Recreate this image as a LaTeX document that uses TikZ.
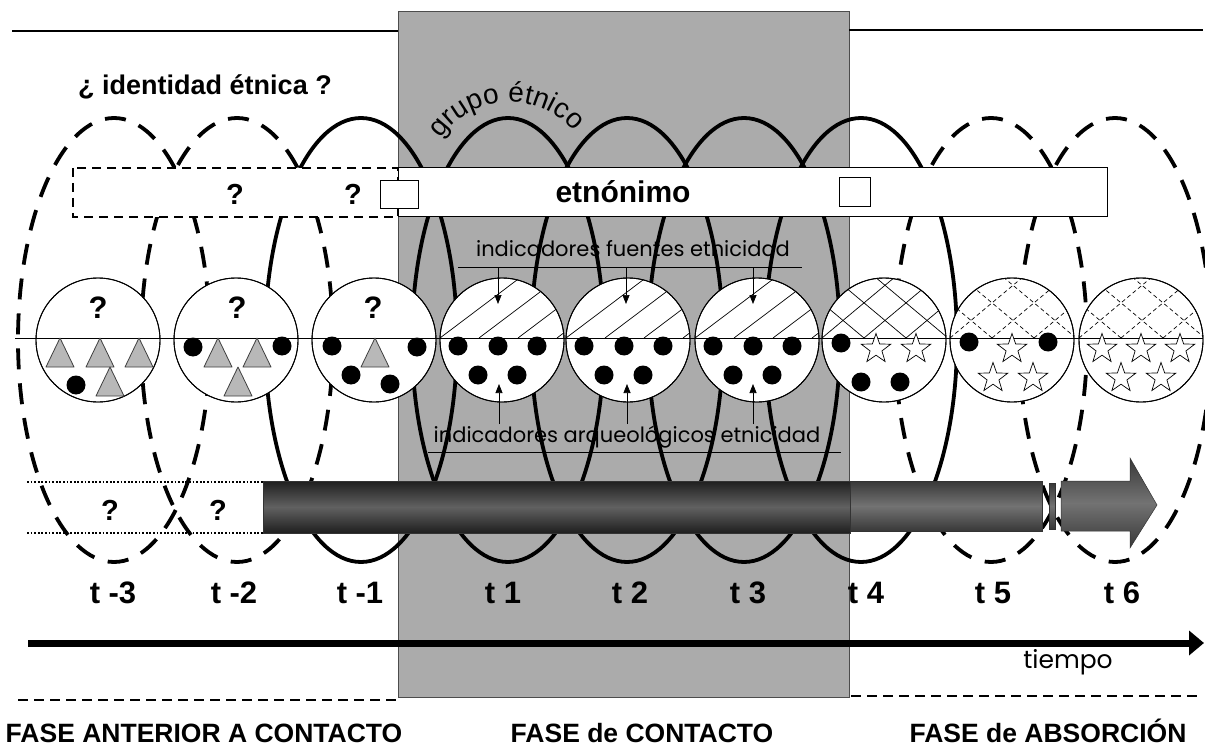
\documentclass[tikz,border=0pt]{standalone}
\usepackage{fontspec}
\setmainfont{Liberation Sans}
\newfontfamily\comicfont{Poppins}
\usetikzlibrary{shapes.geometric,decorations.text,arrows.meta}

\newcommand{\grupofont}{\fontsize{28}{28}\selectfont}
% small gray triangle, apex at (#1,#2)
\newcommand{\trian}[2]{\filldraw[triang] (#1,#2) -- ++(14,29) -- ++(-28,0) -- cycle;}

\tikzset{
  grupo/.style={line width=3.8pt},
  grupodash/.style={grupo, dash pattern=on 21pt off 14pt},
  disco/.style={circle, draw, fill=white, line width=0.9pt, minimum size=124pt, inner sep=0pt},
  punto/.style={circle, fill=black, minimum size=19pt, inner sep=0pt},
  estrella/.style={star, star points=5, star point ratio=2.5, draw, fill=white, line width=0.7pt, minimum size=31pt, inner sep=0pt},
  triang/.style={fill=black!28, draw=black!75, line width=0.8pt, line join=round},
  hatch/.style={line width=0.7pt},
  hatchdash/.style={hatch, dash pattern=on 4pt off 3pt},
  tlab/.style={font=\bfseries\fontsize{31}{31}\selectfont, anchor=base, inner sep=0pt},
  fase/.style={font=\bfseries\fontsize{26.5}{27}\selectfont, anchor=base, inner sep=0pt},
  qmark/.style={font=\bfseries\fontsize{29}{29}\selectfont, anchor=base, inner sep=0pt},
  comic/.style={font=\comicfont\fontsize{21}{21}\selectfont, anchor=base, inner sep=0pt},
  indarrow/.style={line width=0.7pt, -{Triangle[length=9pt,width=7pt]}},
  cajita/.style={draw, fill=white, line width=0.8pt, inner sep=0pt},
  puntos/.style={line width=1.8pt, dash pattern=on 1.8pt off 1.8pt},
  fasedash/.style={line width=1.3pt, dash pattern=on 10pt off 6pt},
  barra/.style={draw=black!80, line width=0.5pt},
}

\begin{document}
\begin{tikzpicture}[x=1pt,y=-1pt]
\useasboundingbox[fill=white] (0,0) rectangle (1205,746);

% contact phase
\filldraw[fill=black!33, draw=black!70, line width=0.8pt] (398,11) rectangle (849,697);

% frame lines
\draw[line width=1.6pt] (12,31) -- (398,31);
\draw[line width=1.6pt] (849,30) -- (1203,30);
\draw[fasedash] (18,700) -- (398,700);
\draw[fasedash] (851,696) -- (1203,696);

% indicators
\node[comic] (fuentes) at (633,257) {indicadores fuentes etnicidad};
\draw[line width=0.7pt] (458,267) -- (802,267);
\node[comic] (arqueo) at (627,442) {indicadores arqueológicos etnicidad};
\draw[line width=0.7pt] (428,452) -- (841,452);

% ethnic groups in time
\foreach \cx/\sty in {114/grupodash, 237/grupodash, 361/grupo, 508/grupo, 627/grupo,
                      744/grupo, 861/grupo, 991/grupodash, 1115/grupodash}
  \draw[\sty] (\cx,340) ellipse [x radius=96, y radius=222];

\node[font=\bfseries\fontsize{27}{27}\selectfont, anchor=base, inner sep=0pt] (ident) at (205,95) {¿ identidad étnica ?};
\path[decorate, decoration={text along path, text align=center, text={|\grupofont|grupo étnico}}]
  (438.8,141.5) arc[start angle=-148, end angle=-38, radius=84];

% etnonimo
\filldraw[fill=white, line width=1.2pt, dash pattern=on 9pt off 6pt] (73,168) rectangle (398,217);
\filldraw[fill=white, line width=0.8pt] (398,167) rectangle (1107,216);
\node[qmark] (q1) at (235,205) {?};
\node[qmark] (q2) at (353,205) {?};
\node[font=\bfseries\fontsize{30}{30}\selectfont, anchor=base, inner sep=0pt] (etno) at (623,203) {etnónimo};
\node[cajita, minimum width=38pt, minimum height=28pt] (sq1) at (399,194) {};
\node[cajita, minimum width=31pt, minimum height=29pt] (sq2) at (854.5,191.5) {};

% samples
\foreach \i/\cx in {1/98,2/236,3/374,4/502,5/628,6/757,7/884,8/1012,9/1141}
  \node[disco] (c\i) at (\cx,340) {};

\foreach \i/\cx in {1/98,2/237,3/373}
  \node[qmark, font=\bfseries\fontsize{31}{31}\selectfont] (cq\i) at (\cx,318) {?};

% simple hatching
\foreach \cx in {502,628,757} {
  \begin{scope}
    \clip (\cx,340) circle (62);
    \clip (\cx-70,338) rectangle (\cx+70,270);
    \foreach \d in {-62,-23,16,55}
      \draw[hatch] (\cx+\d,338) -- ++(130,-98);
  \end{scope}
}
% cross hatching
\foreach \cx/\sty in {884/hatch, 1012/hatchdash, 1141/hatchdash} {
  \begin{scope}
    \clip (\cx,340) circle (62);
    \clip (\cx-70,338) rectangle (\cx+70,270);
    \foreach \d in {-104,-62,-20,22,64,106} {
      \draw[\sty] (\cx+\d,338) -- ++(110,-92);
      \draw[\sty] (\cx+\d,338) -- ++(-110,-92);
    }
  \end{scope}
}
\foreach \i in {1,...,9}
  \draw[line width=0.9pt] (c\i) circle (62);

\draw[line width=0.8pt] (15,338) -- (1203,338);

% lower halves
\trian{60}{338} \trian{100}{338} \trian{139}{338} \trian{110}{367}
\node[punto] (d1a) at (76,385) {};
\node[punto] (d2a) at (193,347) {};
\node[punto] (d2b) at (282,346) {};
\trian{218}{338} \trian{257}{338} \trian{238}{367}
\node[punto] (d3a) at (332,346) {};
\node[punto] (d3b) at (417,347) {};
\node[punto] (d3c) at (351,375) {};
\node[punto] (d3d) at (390,384) {};
\trian{375}{338}
\foreach \i/\cx in {4/502,5/628,6/757}
  \foreach \dx/\dy [count=\j] in {-44/346,-4/346,35/346,-24/375,15/375}
    \node[punto] (d\i-\j) at (\cx+\dx,\dy) {};
\node[punto] (d7a) at (841,343) {};
\node[estrella] (s7a) at (876,349) {};
\node[estrella] (s7b) at (916,349) {};
\node[punto] (d7b) at (861,382) {};
\node[punto] (d7c) at (900,382) {};
\node[punto] (d8a) at (969,342) {};
\node[estrella] (s8a) at (1012,349) {};
\node[punto] (d8b) at (1048,342) {};
\node[estrella] (s8b) at (993,378) {};
\node[estrella] (s8c) at (1033,378) {};
\foreach \x [count=\j] in {1102,1141,1180}
  \node[estrella] (s9-\j) at (\x,349) {};
\foreach \x [count=\j] in {1121,1161}
  \node[estrella] (s9b-\j) at (\x,378) {};

% indicator arrows
\foreach \i/\x in {4/498,5/626,6/753} {
  \coordinate (fu\i) at (\x,267);
  \coordinate (fd\i) at (\x,304);
  \draw[indarrow] (fu\i) -- (fd\i);
}
\foreach \i/\x in {4/499,5/627,6/753} {
  \coordinate (au\i) at (\x,424);
  \coordinate (ad\i) at (\x,384);
  \draw[indarrow] (au\i) -- (ad\i);
}

% time bar
\draw[puntos] (27,482) -- (263,482);
\draw[puntos] (27,533) -- (263,533);
\node[qmark] (bq1) at (110,520) {?};
\node[qmark] (bq2) at (218,520) {?};
\shadedraw[barra, top color=black!88, bottom color=black!88, middle color=black!62] (263,481) rectangle (850,533);
\shadedraw[barra, top color=black!78, bottom color=black!78, middle color=black!55] (850,481) rectangle (1042,531);
\shadedraw[barra, top color=black!78, bottom color=black!78, middle color=black!55] (1049,483) rectangle (1055,529);
\shadedraw[barra, top color=black!78, bottom color=black!78, middle color=black!55]
  (1061,481) -- (1130,481) -- (1130,458) -- (1157,505) -- (1130,548) -- (1130,531) -- (1061,531) -- cycle;

% labels
\foreach \x/\t [count=\j] in {113/t -3, 234/t -2, 360/t -1, 503/t 1, 630/t 2, 748/t 3, 866/t 4, 993/t 5, 1122/t 6}
  \node[tlab] (t\j) at (\x,603) {\t};

% time axis
\coordinate (ta) at (28,643);
\coordinate (tb) at (1204,643);
\draw[line width=7pt, -{Triangle[length=15pt,width=24pt]}] (ta) -- (tb);
\node[comic, font=\comicfont\fontsize{25}{25}\selectfont] (tiempo) at (1068,668) {tiempo};

% phases
\node[fase] (f1) at (204,742) {FASE ANTERIOR A CONTACTO};
\node[fase] (f2) at (642,742) {FASE de CONTACTO};
\node[fase] (f3) at (1048,742) {FASE de ABSORCIÓN};
\end{tikzpicture}
\end{document}
